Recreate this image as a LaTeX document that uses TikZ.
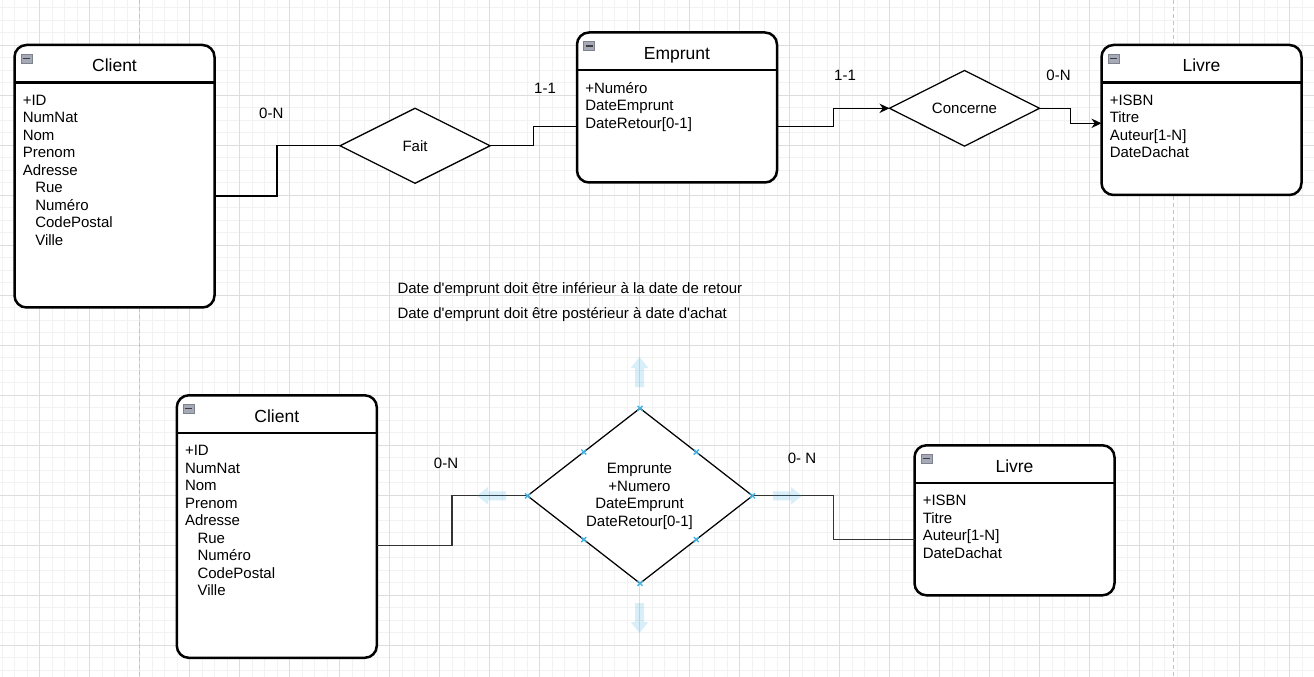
\documentclass[tikz,border=0pt]{standalone}
\usepackage{fontspec}
\setmainfont{Liberation Sans}
\usetikzlibrary{shapes.geometric,arrows.meta,calc}
\definecolor{gridminor}{RGB}{242,242,242}
\definecolor{gridmajor}{RGB}{221,221,221}
\definecolor{pagebrk}{RGB}{195,195,195}
\definecolor{selblue}{RGB}{60,178,230}
\definecolor{hoverblue}{RGB}{41,170,230}
\definecolor{linegray}{RGB}{51,51,51}
\definecolor{iconfill}{RGB}{165,170,182}
\definecolor{iconedge}{RGB}{125,130,140}
\definecolor{iconbarc}{RGB}{60,60,65}
\tikzset{
  gminor/.style={draw=gridminor, line width=0.75pt},
  gmajor/.style={draw=gridmajor, line width=0.75pt},
  pagebreak/.style={draw=pagebrk, line width=0.75pt, dash pattern=on 3pt off 2.25pt},
  entity/.style={rectangle, draw=black, line width=1.875pt, fill=white, rounded corners=9pt,
    inner sep=0pt, outer sep=0pt, minimum width=150pt, anchor=north west},
  hdr/.style={draw=black, line width=1.875pt},
  attr/.style={font=\fontsize{11.25}{13.125}\selectfont, inner sep=0pt, anchor=base west, text=black},
  ttl/.style={font=\fontsize{13.125}{15.75}\selectfont, inner sep=0pt, anchor=base, text=black},
  lbl/.style={font=\fontsize{11.25}{13.125}\selectfont, inner sep=0pt, anchor=base, text=black},
  rel/.style={shape=diamond, draw=black, line width=0.94pt, fill=white, inner sep=0pt, outer sep=0pt,
    font=\fontsize{11.25}{13.125}\selectfont},
  conn/.style={draw=black, line width=0.94pt},
  conn2/.style={draw=linegray, line width=0.94pt},
  arr/.style={-{Stealth[length=7.5pt,width=7pt]}},
  icon/.style={rectangle, fill=iconfill, draw=iconedge, line width=0.5pt, inner sep=0pt, outer sep=0pt,
    minimum width=8.25pt, minimum height=6.75pt, anchor=north west},
  iconbar/.style={draw=iconbarc, line width=1pt},
  selx/.style={draw=selblue, line width=1pt},
  hover/.style={fill=hoverblue, fill opacity=0.18},
}
\newcommand\entdeco[2]{%
  \draw[hdr] ($(#1.north west)+(0,37.5)$) -- ($(#1.north east)+(0,37.5)$);
  \node[ttl] (#1-t) at ($(#1.north)+(0,27)$) {#2};
  \node[icon] (#1-i) at ($(#1.north west)+(6.5,9)$) {};
  \draw[iconbar] ($(#1-i.west)+(2,0)$) -- ($(#1-i.east)+(-2,0)$);
}
\newcommand\selmark[1]{%
  \draw[selx] ($(#1)+(-2.5,-2.5)$) -- ($(#1)+(2.5,2.5)$) ($(#1)+(-2.5,2.5)$) -- ($(#1)+(2.5,-2.5)$);
}
\begin{document}
\begin{tikzpicture}[x=0.75pt,y=-0.75pt]
\useasboundingbox (0,0) rectangle (1314,677);
\fill[white] (0,0) rectangle (1314,677);
% grid
\foreach \k in {0,...,105} \draw[gminor] ({2+12.5*\k},0) -- ++(0,677);
\foreach \k in {0,...,53} \draw[gminor] (0,{7.8+12.5*\k}) -- ++(1314,0);
\foreach \k in {0,...,25} \draw[gmajor] ({39.5+50*\k},0) -- ++(0,677);
\foreach \k in {0,...,12} \draw[gmajor] (0,{45.3+50*\k}) -- ++(1314,0);
\coordinate (pb1a) at (139.5,0); \coordinate (pb1b) at (139.5,677);
\coordinate (pb2a) at (1173.5,0); \coordinate (pb2b) at (1173.5,677);
\draw[pagebreak] (pb1a) -- (pb1b);
\draw[pagebreak] (pb2a) -- (pb2b);

% ---------- top diagram ----------
\node[entity, minimum height=196.875pt] (client1) at (14.5,45) {};
\node[entity, minimum height=112.5pt] (emprunt) at (577,32.5) {};
\node[entity, minimum height=112.5pt] (livre1) at (1101.5,45) {};
\node[rel, minimum width=112.5pt, minimum height=56.25pt] (fait) at (415,145.8) {Fait};
\node[rel, minimum width=112.5pt, minimum height=56.25pt] (concerne) at (964.5,108.3) {Concerne};

\entdeco{client1}{Client}
\entdeco{emprunt}{Emprunt}
\entdeco{livre1}{Livre}

\foreach \t [count=\i from 0] in {+ID,NumNat,Nom,Prenom,Adresse}
  \node[attr] (client1-a\i) at ($(client1.north west)+(8,{60.3+17.5*\i})$) {\t};
\foreach \t [count=\i from 5] in {Rue,Numéro,CodePostal,Ville}
  \node[attr] (client1-a\i) at ($(client1.north west)+(20.5,{60.3+17.5*\i})$) {\t};
\foreach \t [count=\i from 0] in {+Numéro,DateEmprunt,DateRetour[0-1]}
  \node[attr] (emprunt-a\i) at ($(emprunt.north west)+(8,{60.6+17.5*\i})$) {\t};
\foreach \t [count=\i from 0] in {+ISBN,Titre,Auteur[1-N],DateDachat}
  \node[attr] (livre1-a\i) at ($(livre1.north west)+(8,{60.3+17.5*\i})$) {\t};

\draw[conn] ($(client1.east)+(0,19.7)$) -- ++(62.5,0) |- (fait.west);
\draw[conn] (fait.east) -- ++(43.3,0) |- ($(emprunt.west)+(0,19.2)$);
\draw[conn, arr] ($(emprunt.east)+(0,19.2)$) -- ++(56.2,0) |- (concerne.west);
\draw[conn, arr] (concerne.east) -- ++(31,0) |- ($(livre1.west)+(0,3.3)$);

\node[lbl] (l1) at (271.3,118.3) {0-N};
\node[lbl] (l2) at (545,93.3) {1-1};
\node[lbl] (l3) at (845,80.6) {1-1};
\node[lbl] (l4) at (1058.5,80.6) {0-N};

% ---------- notes ----------
\node[attr] (note1) at (397.3,293.3) {Date d\textquotesingle emprunt doit être inférieur à la date de retour};
\node[attr] (note2) at (397.3,318.3) {Date d\textquotesingle emprunt doit être postérieur à date d\textquotesingle achat};

% ---------- bottom diagram ----------
\node[entity, minimum height=196.875pt] (client2) at (176.8,395.3) {};
\node[entity, minimum height=112.5pt] (livre2) at (914.5,445.3) {};
\node[rel, minimum width=168.75pt, minimum height=131.25pt] (emprunte) at (640,495.8) {};
\draw[conn2] ($(client2.east)+(0,19.2)$) -- ++(75.3,0) |- (emprunte.west);
\draw[conn2] (emprunte.east) -- ++(80.8,0) |- ($(livre2.west)+(0,19)$);
\node[lbl, align=center, anchor=center] (emprunteT) at ($(emprunte.center)+(-0.5,0.5)$)
  {Emprunte\\+Numero\\DateEmprunt\\DateRetour[0-1]};

\entdeco{client2}{Client}
\entdeco{livre2}{Livre}
\foreach \t [count=\i from 0] in {+ID,NumNat,Nom,Prenom,Adresse}
  \node[attr] (client2-a\i) at ($(client2.north west)+(8,{60.3+17.5*\i})$) {\t};
\foreach \t [count=\i from 5] in {Rue,Numéro,CodePostal,Ville}
  \node[attr] (client2-a\i) at ($(client2.north west)+(20.5,{60.3+17.5*\i})$) {\t};
\foreach \t [count=\i from 0] in {+ISBN,Titre,Auteur[1-N],DateDachat}
  \node[attr] (livre2-a\i) at ($(livre2.north west)+(8,{60.3+17.5*\i})$) {\t};

\node[lbl] (l5) at (446,468.3) {0-N};
\node[lbl] (l6) at (802,463.3) {0- N};

% hover arrows
\coordinate (hvU) at ($(emprunte.north)+(-0.5,-51.3)$);
\coordinate (hvD) at ($(emprunte.south)+(-0.5,49.7)$);
\coordinate (hvL) at ($(emprunte.west)+(-50.5,0)$);
\coordinate (hvR) at ($(emprunte.east)+(49.5,0)$);
\fill[hover] (hvU) -- ++(8.8,11) -- ++(-4.3,0) -- ++(0,19) -- ++(-9,0) -- ++(0,-19) -- ++(-4.3,0) -- cycle;
\fill[hover] (hvD) -- ++(8.8,-11) -- ++(-4.3,0) -- ++(0,-19) -- ++(-9,0) -- ++(0,19) -- ++(-4.3,0) -- cycle;
\fill[hover] (hvL) -- ++(11,-8.8) -- ++(0,4.3) -- ++(18,0) -- ++(0,9) -- ++(-18,0) -- ++(0,4.3) -- cycle;
\fill[hover] (hvR) -- ++(-11,-8.8) -- ++(0,4.3) -- ++(-18,0) -- ++(0,9) -- ++(18,0) -- ++(0,4.3) -- cycle;

% selection marks
\coordinate (em-nw) at ($(emprunte.north)!0.5!(emprunte.west)$);
\coordinate (em-ne) at ($(emprunte.north)!0.5!(emprunte.east)$);
\coordinate (em-sw) at ($(emprunte.south)!0.5!(emprunte.west)$);
\coordinate (em-se) at ($(emprunte.south)!0.5!(emprunte.east)$);
\selmark{emprunte.north}
\selmark{emprunte.south}
\selmark{emprunte.west}
\selmark{emprunte.east}
\selmark{em-nw}
\selmark{em-ne}
\selmark{em-sw}
\selmark{em-se}
\end{tikzpicture}
\end{document}
